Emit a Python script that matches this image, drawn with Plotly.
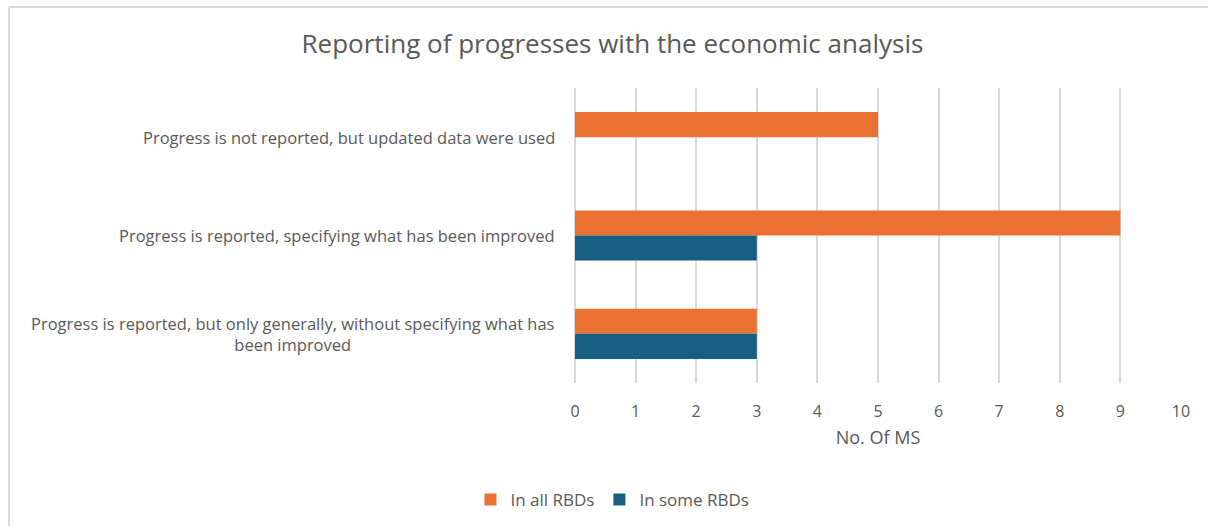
import plotly.graph_objects as go

categories = [
    "Progress is not reported, but updated data were used",
    "Progress is reported, specifying what has been improved",
    "Progress is reported, but only generally, without specifying what has<br>been improved",
]
in_all_rbds = [5, 9, 3]
in_some_rbds = [None, 3, 3]
x_ticks = list(range(0, 11))

FONT = "Open Sans"
TEXT = "#595959"
GRID = "#D9D9D9"

fig = go.Figure()
fig.add_trace(go.Bar(y=categories, x=in_all_rbds, orientation="h", name="In all RBDs",
                     marker=dict(color="#E97132", line=dict(width=0))))
fig.add_trace(go.Bar(y=categories, x=in_some_rbds, orientation="h", name="In some RBDs",
                     marker=dict(color="#156082", line=dict(width=0))))

for c in categories:
    fig.add_annotation(x=0, xref="paper", y=c, yref="y", text=c, showarrow=False,
                       xanchor="right", xshift=-18, align="center",
                       font=dict(family=FONT, size=16.5, color=TEXT))

# chart-area border (left and top edges visible; right/bottom run off the page)
fig.add_shape(type="line", xref="paper", yref="paper", x0=-0.934, x1=-0.934, y0=-0.7, y1=1.2746,
              line=dict(color=GRID, width=2), layer="below")
fig.add_shape(type="line", xref="paper", yref="paper", x0=-0.934, x1=1.1, y0=1.2746, y1=1.2746,
              line=dict(color=GRID, width=2), layer="below")

fig.update_layout(
    width=1208, height=526,
    margin=dict(l=575, r=27, t=88, b=143),
    paper_bgcolor="white", plot_bgcolor="white",
    barmode="group", bargap=0.49, bargroupgap=0,
    font=dict(family=FONT, color=TEXT),
    title=dict(text="Reporting of progresses with the economic analysis",
               xref="container", x=0.507, xanchor="center",
               yref="container", y=1 - 44 / 526, yanchor="middle",
               font=dict(family=FONT, size=26, color=TEXT)),
    xaxis=dict(range=[0, 10], tickvals=x_ticks, showgrid=True, gridcolor=GRID, gridwidth=1.5,
               zeroline=True, zerolinecolor=GRID, zerolinewidth=1.5,
               showline=False, ticks="", ticklabelstandoff=17,
               tickfont=dict(family=FONT, size=16, color=TEXT),
               title=dict(text="No. Of MS", standoff=10, font=dict(family=FONT, size=18, color=TEXT))),
    yaxis=dict(autorange="reversed", showticklabels=False, showgrid=False, zeroline=False,
               showline=False, ticks=""),
    legend=dict(orientation="h", xref="container", x=0.507, xanchor="center",
                yref="container", y=26 / 526, yanchor="middle",
                font=dict(family=FONT, size=17, color=TEXT), traceorder="normal",
                itemwidth=30),
    showlegend=True,
)

fig.write_html("out.html", config={"displayModeBar": False},
               post_script="document.body.style.margin='0';document.body.style.overflow='hidden';")
